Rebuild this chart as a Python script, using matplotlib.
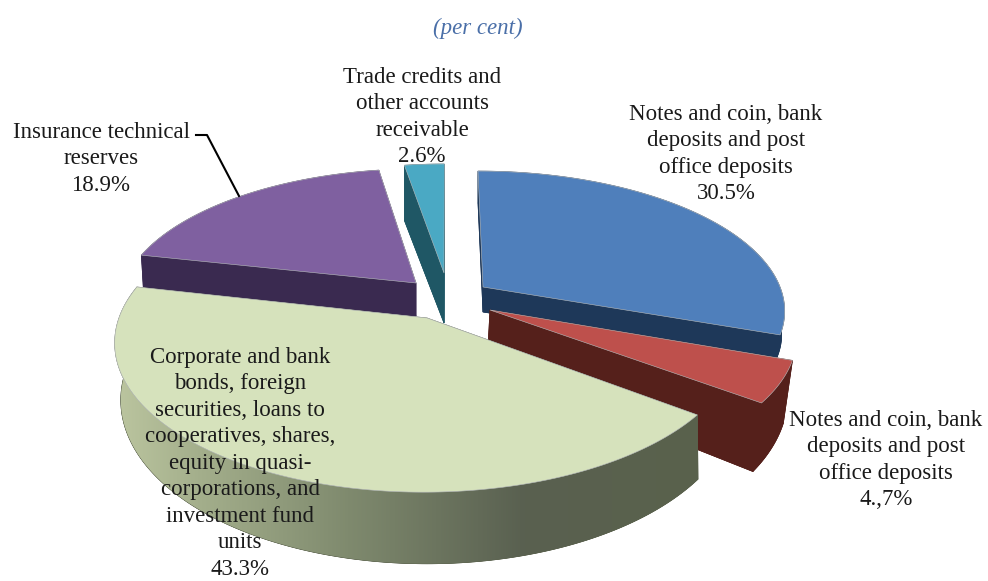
import numpy as np
import matplotlib
matplotlib.use("Agg")
import matplotlib.pyplot as plt
from matplotlib.colors import LinearSegmentedColormap
from matplotlib.patches import Polygon

shares = [30.5, 4.7, 43.3, 18.9, 2.6]
slice_names = ["blue", "red", "green", "purple", "teal"]
labels = [
    "Notes and coin, bank\ndeposits and post\noffice deposits\n30.5%",
    "Notes and coin, bank\ndeposits and post\noffice deposits\n4.,7%",
    "Corporate and bank\nbonds, foreign\nsecurities, loans to\ncooperatives, shares,\nequity in quasi-\ncorporations, and\ninvestment fund\nunits\n43.3%",
    "Insurance technical\nreserves\n18.9%",
    "Trade credits and\nother accounts\nreceivable\n2.6%",
]
top_colors = ["#4f7fbb", "#be504c", "#d6e2bc", "#7f60a0", "#4aa9c4"]
side_colors = ["#1e3859", "#55201b", "#5a614c", "#3a2a50", "#1f5765"]

# pixel layout: label centres and where the first line starts
label_x = [726, 886, 240, 101, 422]
label_y = [104, 410, 347, 122, 67]

# each slice gets its own disc on screen: (cx, cy, rx, ry) for top and bottom
top_disc = {
    "blue": (483, 287, 297, 134),
    "red": (490, 310, 302, 141),
    "green": (427, 318, 308, 147),
    "purple": (416, 283, 292, 132),
    "teal": (444, 273, 283, 126),
}
bottom_disc = {
    "blue": (483, 312, 294, 126),
    "red": (487, 366, 296, 160),
    "green": (430, 373, 305, 161),
    "purple": (416, 316, 290, 137),
    "teal": (444, 323, 283, 120),
}
draw_order = ["purple", "teal", "blue", "red", "green"]

TILT = 0.156
VANISH_X = 446


def project(t, disc):
    cx, cy, rx, ry = disc
    w = 1 + TILT * np.cos(t)
    x = VANISH_X + (cx - VANISH_X + rx * np.sin(t)) / w
    y = cy - ry * np.cos(t) / w
    return np.column_stack([x, y])


def wedge(t, disc):
    return np.vstack([[disc[0], disc[1]], project(t, disc)])


fig = plt.figure(figsize=(9.88, 5.81), dpi=100, facecolor="white")
ax = fig.add_axes([0, 0, 1, 1])

edges = np.radians(np.cumsum([0] + shares) / sum(shares) * 360)
z = 2
for name in draw_order:
    i = slice_names.index(name)
    t = np.linspace(edges[i], edges[i + 1], 200)
    top = top_disc[name]
    bot = bottom_disc[name]
    top_rim = project(t, top)
    bot_rim = project(t, bot)

    # lower disc, the two cut faces and the outer wall
    parts = [wedge(t, bot), np.vstack([top_rim, bot_rim[::-1]])]
    for k in [0, -1]:
        parts.append(np.array([top[:2], top_rim[k], bot_rim[k], bot[:2]]))
    for pts in parts:
        ax.add_patch(Polygon(pts, closed=True, fc=side_colors[i], ec=side_colors[i], lw=0.5, zorder=z))

    if name == "green":
        # outer wall fades from light on the left to dark on the right
        wall = Polygon(np.vstack([top_rim, bot_rim[::-1]]), closed=True, transform=ax.transData)
        cmap = LinearSegmentedColormap.from_list(
            "wall", [(0, "#bcc6a0"), (0.15, "#a3ae8b"), (0.4, "#7f8a6e"), (0.7, "#596050"), (1, "#5a624c")]
        )
        im = ax.imshow(np.linspace(0, 1, 256)[None, :], cmap=cmap, extent=[113, 700, 600, 300],
                       aspect="auto", zorder=z + 0.1)
        im.set_clip_path(wall)

    ax.add_patch(Polygon(wedge(t, top), closed=True, fc=top_colors[i], ec="#b9bdbf", lw=0.4, zorder=z + 0.2))
    z += 1

ax.plot([196, 207, 239], [135, 135, 196], color="black", lw=1.5, zorder=z)

for text, x, y in zip(labels, label_x, label_y):
    ax.text(x, y, text, ha="center", va="top", multialignment="center", fontsize=16.5,
            family="Liberation Serif", color="#1a1a1a", linespacing=1.34, zorder=z + 1)
ax.text(478, 28, "(per cent)", ha="center", va="center", fontsize=16.5, style="italic",
        family="Liberation Serif", color="#4a6fa8", zorder=z + 1)

ax.set_xlim(0, 988)
ax.set_ylim(581, 0)
ax.axis("off")
fig.savefig("out.png", dpi=100, facecolor="white")
